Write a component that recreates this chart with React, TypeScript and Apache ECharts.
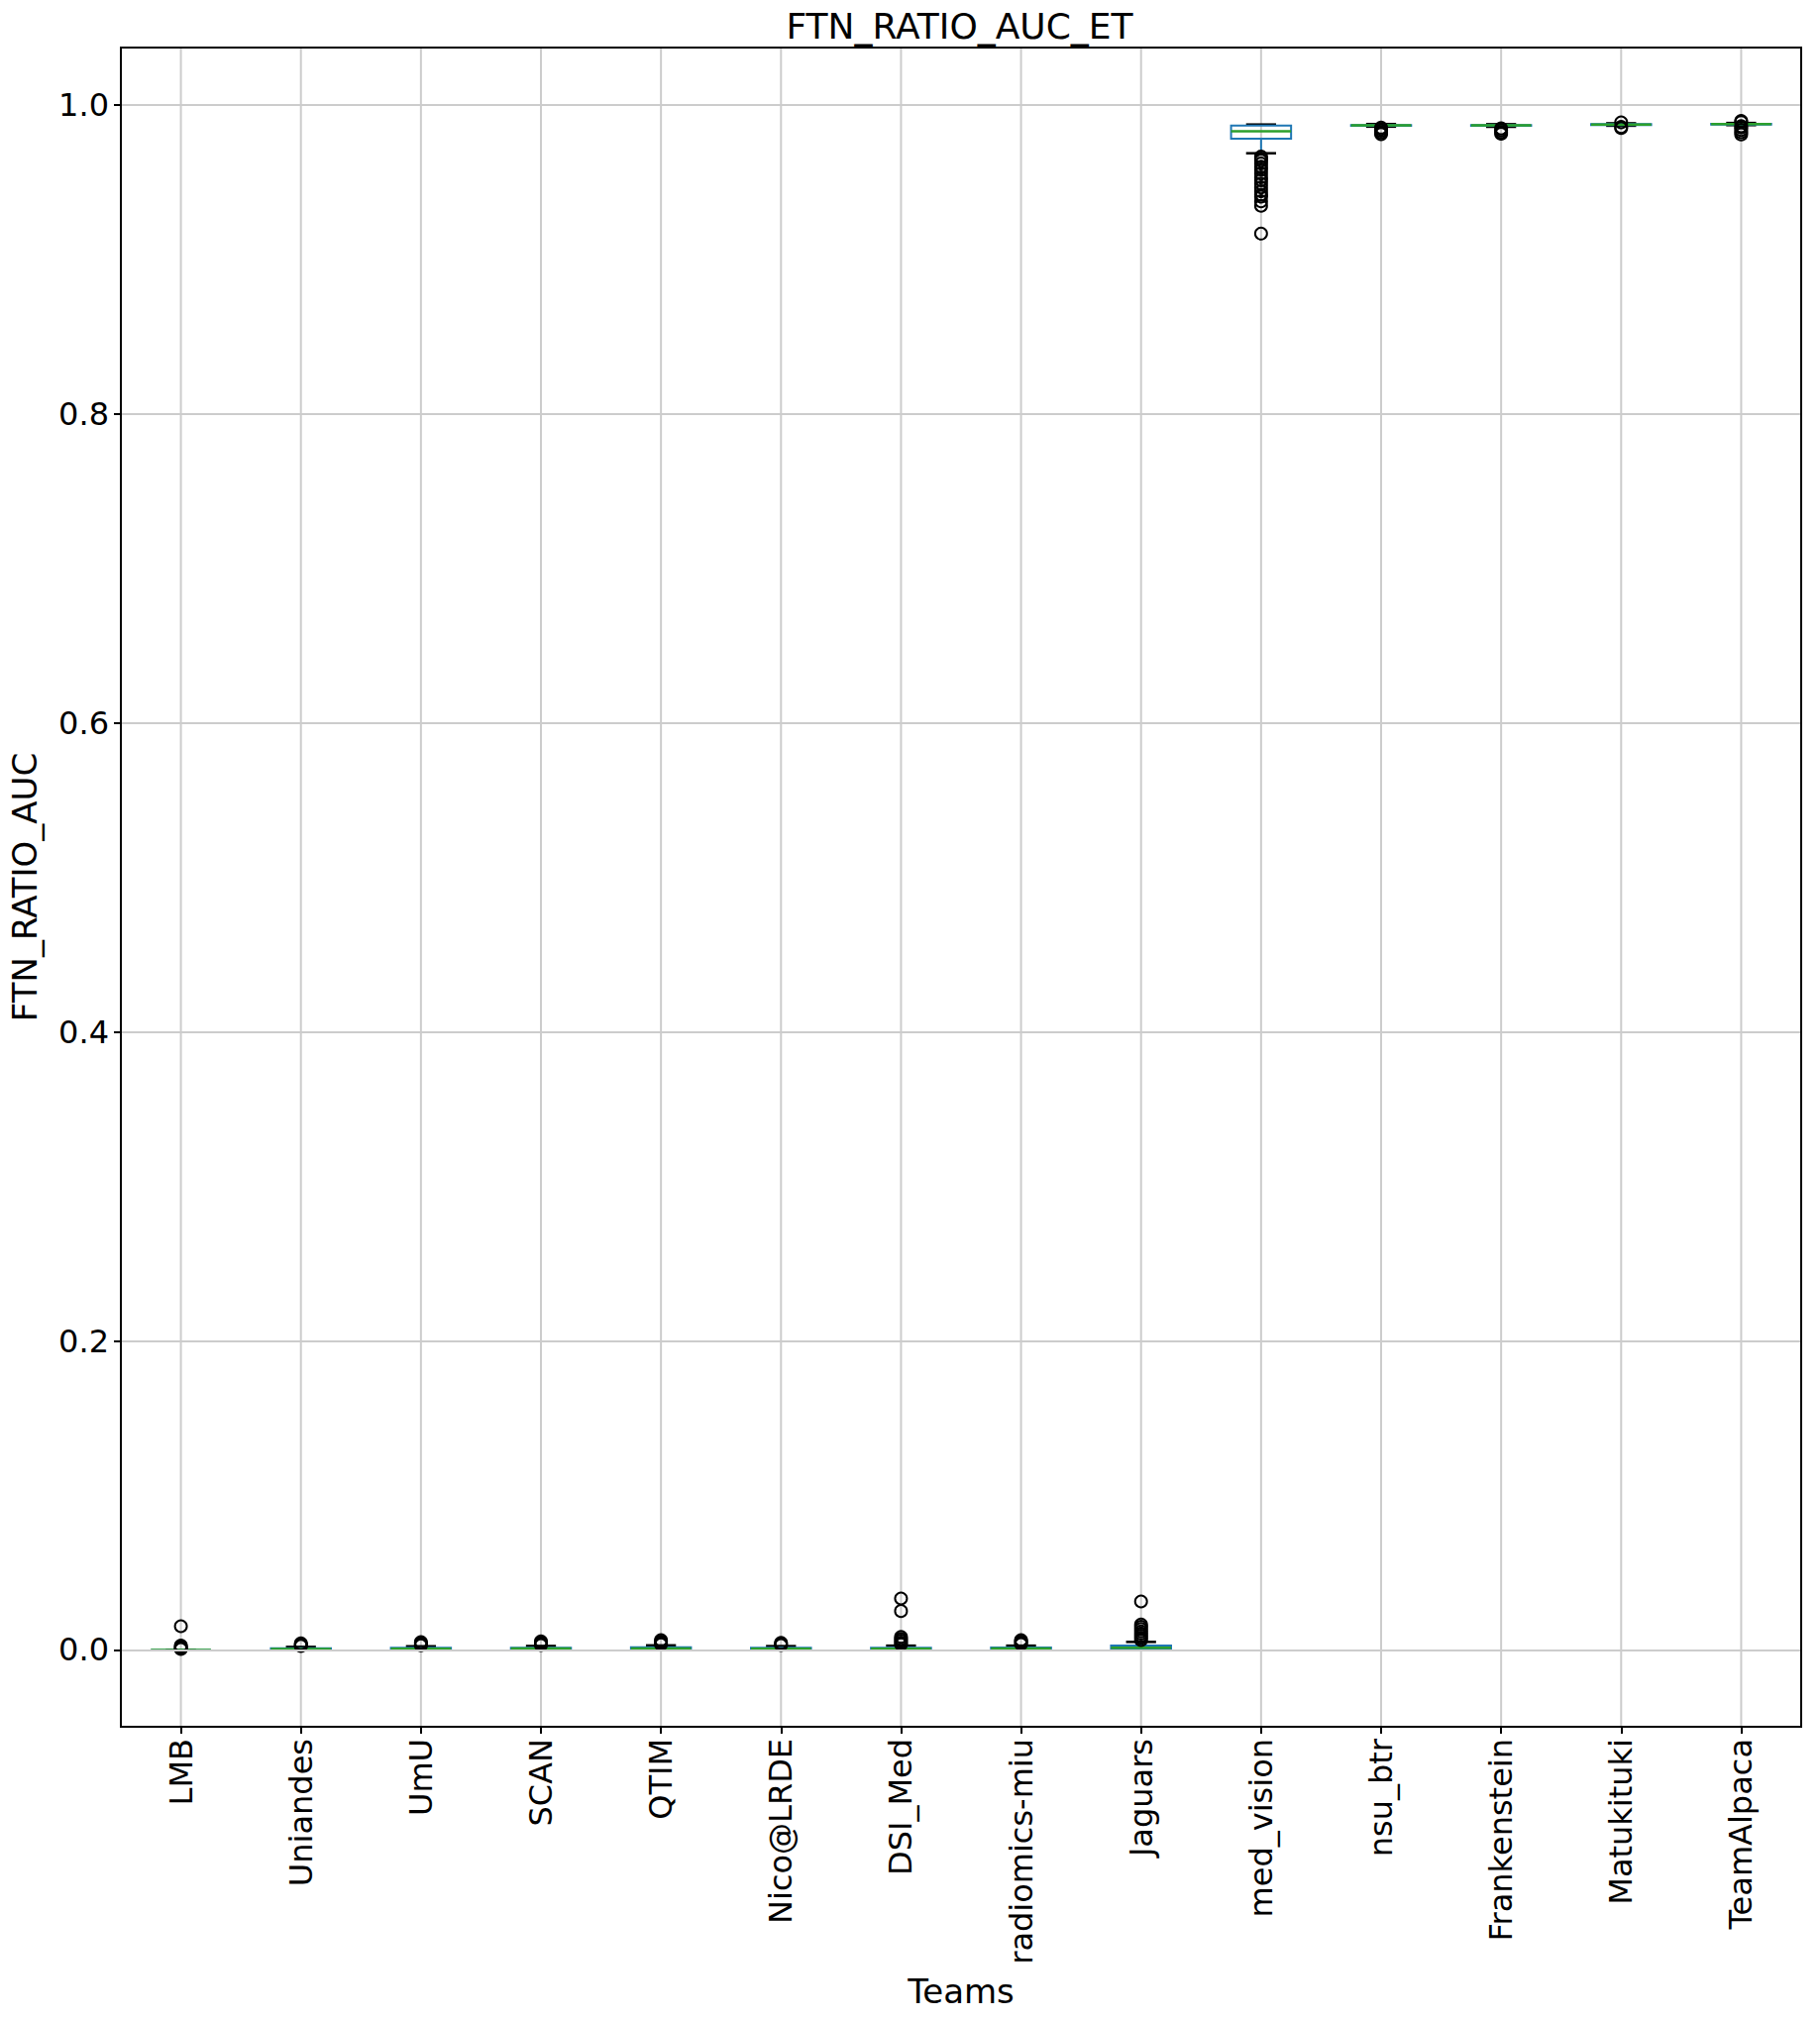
import React, { useEffect, useRef } from "react";
import * as echarts from "echarts";

const teams = ["LMB", "Uniandes", "UmU", "SCAN", "QTIM", "Nico@LRDE", "DSI_Med", "radiomics-miu", "Jaguars", "med_vision", "nsu_btr", "Frankenstein", "Matukituki", "TeamAlpaca"];

const whiskerLow = [0, 0, 0, 0, 0, 0, 0, 0, 0, 0.9686, 0.9858, 0.9857, 0.9864, 0.9868];
const q1 = [0, 0.0002, 0.0003, 0.0003, 0.0004, 0.0003, 0.0003, 0.0004, 0.0006, 0.978, 0.9864, 0.9863, 0.9869, 0.9872];
const median = [0, 0.0006, 0.0008, 0.0009, 0.001, 0.0008, 0.0008, 0.0009, 0.0015, 0.9829, 0.9866, 0.9866, 0.9872, 0.9874];
const q3 = [0, 0.0011, 0.0014, 0.0015, 0.0017, 0.0014, 0.0015, 0.0016, 0.0028, 0.9865, 0.9869, 0.9868, 0.9874, 0.9876];
const whiskerHigh = [0, 0.002, 0.0024, 0.0026, 0.003, 0.0025, 0.0028, 0.0028, 0.0052, 0.9872, 0.9875, 0.9874, 0.988, 0.9882];

const outliers: number[][] = [
  [0.0006, 0.0012, 0.002, 0.0028, 0.0154],
  [0.0026, 0.0031, 0.0036, 0.0042],
  [0.003, 0.0037, 0.0044, 0.0051],
  [0.0032, 0.004, 0.0047, 0.0055],
  [0.0037, 0.0045, 0.0054, 0.0063],
  [0.0032, 0.0039, 0.0046],
  [0.0036, 0.0048, 0.006, 0.0072, 0.0085, 0.0252, 0.0333],
  [0.0038, 0.0047, 0.0057, 0.0064],
  [0.0064, 0.0078, 0.0092, 0.0106, 0.012, 0.0135, 0.015, 0.0165, 0.0314],
  [0.9665, 0.9652, 0.9638, 0.962, 0.9598, 0.958, 0.9555, 0.953, 0.9512, 0.949, 0.9465, 0.944, 0.9418, 0.9405, 0.9375, 0.9346, 0.9166],
  [0.981, 0.9821, 0.9832, 0.9843, 0.9852],
  [0.9812, 0.9823, 0.9835, 0.9847],
  [0.9849, 0.9856, 0.9886],
  [0.9808, 0.9822, 0.9837, 0.9852, 0.9861, 0.9888, 0.9895],
];

const yTickDecimals = 1;
const FONT = "DejaVu Sans";

export default function App() {
  const ref = useRef<HTMLDivElement>(null);
  useEffect(() => {
    if (!ref.current) return;
    const chart = echarts.init(ref.current, undefined, { renderer: "svg" });
    const boxData = teams.map((_, i) => [i, whiskerLow[i], q1[i], median[i], q3[i], whiskerHigh[i]]);
    const flierData: number[][] = [];
    outliers.forEach((arr, i) => arr.forEach((v) => flierData.push([i, v])));

    const renderItem = (params: any, api: any) => {
      const idx = api.value(0);
      const cs = params.coordSys;
      const pLow = api.coord([idx, api.value(1)]);
      const pQ1 = api.coord([idx, api.value(2)]);
      const pMed = api.coord([idx, api.value(3)]);
      const pQ3 = api.coord([idx, api.value(4)]);
      const pHigh = api.coord([idx, api.value(5)]);
      const band = api.size([1, 0])[0];
      const bw = band * 0.5;
      const cw = bw * 0.5;
      const cx = pMed[0];
      const blue = "#1f77b4";
      return {
        type: "group",
        children: [
          { type: "line", shape: { x1: cx, y1: cs.y, x2: cx, y2: cs.y + cs.height }, style: { stroke: "#cccccc", lineWidth: 2 }, silent: true },
          { type: "line", shape: { x1: cx, y1: pQ1[1], x2: cx, y2: pLow[1] }, style: { stroke: blue, lineWidth: 2 } },
          { type: "line", shape: { x1: cx, y1: pQ3[1], x2: cx, y2: pHigh[1] }, style: { stroke: blue, lineWidth: 2 } },
          { type: "line", shape: { x1: cx - cw / 2, y1: pLow[1], x2: cx + cw / 2, y2: pLow[1] }, style: { stroke: "#000", lineWidth: 2.5 } },
          { type: "line", shape: { x1: cx - cw / 2, y1: pHigh[1], x2: cx + cw / 2, y2: pHigh[1] }, style: { stroke: "#000", lineWidth: 2.5 } },
          { type: "rect", shape: { x: cx - bw / 2, y: pQ3[1], width: bw, height: pQ1[1] - pQ3[1] }, style: { stroke: blue, fill: "none", lineWidth: 2 } },
          { type: "line", shape: { x1: cx - bw / 2, y1: pMed[1], x2: cx + bw / 2, y2: pMed[1] }, style: { stroke: "#2ca02c", lineWidth: 2.5 } },
        ],
      };
    };

    const axisBlack = { show: true, onZero: false, lineStyle: { color: "#000", width: 2 } };

    chart.setOption({
      animation: false,
      backgroundColor: "#fff",
      textStyle: { fontFamily: FONT },
      grid: { left: 119, right: 19, top: 48, bottom: 297, show: true, borderColor: "#000", borderWidth: 2, backgroundColor: "transparent" },
      graphic: [
        { type: "text", x: 968.5, y: 26, style: { text: "FTN_RATIO_AUC_ET", fontSize: 36, fontFamily: FONT, fill: "#000", align: "center", verticalAlign: "middle" } },
      ],
      xAxis: [
        {
          type: "category",
          data: teams,
          boundaryGap: true,
          name: "Teams",
          nameLocation: "middle",
          nameGap: 250,
          nameTextStyle: { fontSize: 34, fontFamily: FONT, color: "#000" },
          axisLine: axisBlack,
          axisTick: { show: true, alignWithLabel: true, length: 7, lineStyle: { color: "#000", width: 2 } },
          axisLabel: { rotate: 90, fontSize: 32, fontFamily: FONT, color: "#000", margin: 12 },
          splitLine: { show: false },
          z: 10,
        },
        {
          type: "category",
          data: teams,
          position: "top",
          boundaryGap: true,
          axisLine: axisBlack,
          axisTick: { show: false },
          axisLabel: { show: false },
          splitLine: { show: false },
          z: 10,
        },
      ],
      yAxis: [
        {
          type: "value",
          min: -0.0497,
          max: 1.037,
          splitNumber: 5,
          minInterval: 0.2,
          maxInterval: 0.2,
          name: "FTN_RATIO_AUC",
          nameLocation: "middle",
          nameGap: 80,
          nameTextStyle: { fontSize: 34, fontFamily: FONT, color: "#000" },
          axisLine: axisBlack,
          axisTick: { show: true, length: 7, lineStyle: { color: "#000", width: 2 } },
          axisLabel: {
            fontSize: 32, fontFamily: FONT, color: "#000", margin: 12,
            showMinLabel: false, showMaxLabel: false,
            formatter: (v: number) => (Math.abs(v) < 1e-9 ? 0 : v).toFixed(yTickDecimals),
          },
          splitLine: { show: true, lineStyle: { color: "#cccccc", width: 2 } },
          z: 10,
        },
        {
          type: "value",
          position: "right",
          min: -0.0497,
          max: 1.037,
          axisLine: axisBlack,
          axisTick: { show: false },
          axisLabel: { show: false },
          splitLine: { show: false },
          z: 10,
        },
      ],
      series: [
        {
          type: "custom",
          renderItem,
          data: boxData,
          encode: { x: 0, y: [1, 2, 3, 4, 5] },
          z: 2,
          silent: true,
        },
        {
          type: "scatter",
          data: flierData,
          symbol: "circle",
          symbolSize: 12,
          itemStyle: { color: "rgba(255,255,255,0)", borderColor: "#000", borderWidth: 2, opacity: 1 },
          z: 3,
          silent: true,
        },
      ],
    });
    return () => chart.dispose();
  }, []);
  return <div ref={ref} style={{ position: "absolute", left: 0, top: 0, width: 1837, height: 2040 }} />;
}
